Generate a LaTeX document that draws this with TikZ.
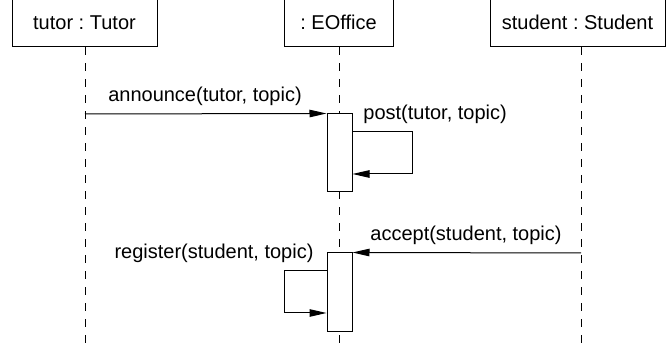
\documentclass[tikz,border=0pt]{standalone}
\usepackage{fontspec}
\setmainfont{Liberation Sans}
\usetikzlibrary{arrows.meta}
\frenchspacing
\begin{document}
\begin{tikzpicture}[x=0.5pt,y=-0.5pt,
  every node/.style={font=\fontsize{10}{12}\selectfont\frenchspacing},
  objbox/.style={draw,line width=0.5pt,minimum height=24.5pt,inner sep=0pt},
  lifeline/.style={line width=0.5pt,dash pattern=on 4pt off 4pt},
  actbox/.style={draw,fill=white,line width=0.5pt,minimum width=12.5pt,inner sep=0pt},
  msg/.style={line width=0.5pt,-{Triangle[length=8.5pt,width=3.75pt]}},
  lbl/.style={inner sep=0pt}]
\useasboundingbox (0,0) rectangle (666,351);
% objects
\node[objbox,minimum width=72.5pt] (tutor) at (84.5,22.5) {tutor : Tutor};
\node[objbox,minimum width=54.5pt] (office) at (338.5,22.5) {: EOffice};
\node[objbox,minimum width=87.5pt] (student) at (577.5,22.5) {student : Student};
% lifeline ends
\coordinate (tutorEnd) at (85,345);
\coordinate (officeEnd) at (339,345);
\coordinate (studentEnd) at (581,345);
\draw[lifeline] (tutor.south -| tutorEnd) -- (tutorEnd);
\draw[lifeline] (office.south -| officeEnd) -- (officeEnd);
\draw[lifeline] (student.south -| studentEnd) -- (studentEnd);
% activations
\node[actbox,minimum height=39pt] (act1) at (339.5,153) {};
\node[actbox,minimum height=39.5pt] (act2) at (339.5,292.5) {};
% announce
\coordinate (annStart) at (85,114);
\draw[msg] (annStart) -- (act1.north west);
\node[lbl] (annLbl) at (205,96.5) {announce(tutor, topic)};
% post
\coordinate (postR1) at (412,132);
\coordinate (postR2) at (412,174);
\draw[msg] (act1.east |- postR1) -- (postR1) -- (postR2) -- (act1.east |- postR2);
\node[lbl,anchor=west] (postLbl) at (363,114.5) {post(tutor, topic)};
% accept
\coordinate (accStart) at (581,253);
\draw[msg] (accStart) -- (act2.north east);
\node[lbl] (accLbl) at (466,235) {accept(student, topic)};
% register
\coordinate (regL1) at (284,271);
\coordinate (regL2) at (284,313);
\draw[msg] (act2.west |- regL1) -- (regL1) -- (regL2) -- (act2.west |- regL2);
\node[lbl] (regLbl) at (214,253.5) {register(student, topic)};
\end{tikzpicture}
\end{document}
